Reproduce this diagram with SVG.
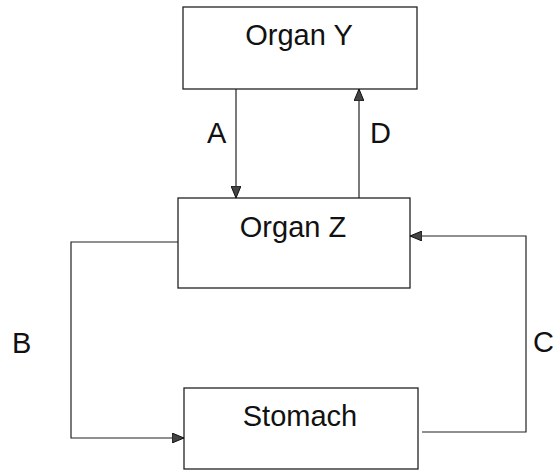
<svg xmlns="http://www.w3.org/2000/svg" width="555" height="471" viewBox="0 0 555 471">
<defs>
<style>
.box{fill:#fff;stroke:#222;stroke-width:1.3}
.con{fill:none;stroke:#222;stroke-width:1.2}
.t{font-family:"Liberation Sans",Arial,sans-serif;font-size:29px;fill:#111}
</style>
<marker id="ah" viewBox="0 0 12 10" refX="12" refY="5" markerWidth="12" markerHeight="10" markerUnits="userSpaceOnUse" orient="auto">
<path d="M0,0 L12,5 L0,10 Z" fill="#444" stroke="#111" stroke-width="1"/>
</marker>
</defs>
<rect width="555" height="471" fill="#fff"/>
<g id="organY">
<rect class="box" x="183" y="7" width="234" height="82"/>
<text class="t" x="299" y="45" text-anchor="middle">Organ Y</text>
</g>
<g id="organZ">
<rect class="box" x="178" y="198" width="232" height="90"/>
<text class="t" x="293" y="237" text-anchor="middle">Organ Z</text>
</g>
<g id="stomach">
<rect class="box" x="184" y="388" width="234" height="81"/>
<text class="t" x="300" y="426" text-anchor="middle">Stomach</text>
</g>
<g id="connectors">
<path class="con" d="M236,89 L236,198" marker-end="url(#ah)"/>
<path class="con" d="M359,198 L359,89" marker-end="url(#ah)"/>
<path class="con" d="M178,242 L71,242 L71,438 L184,438" marker-end="url(#ah)"/>
<path class="con" d="M422,432 L526,432 L526,236 L410,236" marker-end="url(#ah)"/>
<text class="t" x="207" y="143">A</text>
<text class="t" x="370" y="143">D</text>
<text class="t" x="12" y="353">B</text>
<text class="t" x="533" y="352">C</text>
</g>
</svg>
